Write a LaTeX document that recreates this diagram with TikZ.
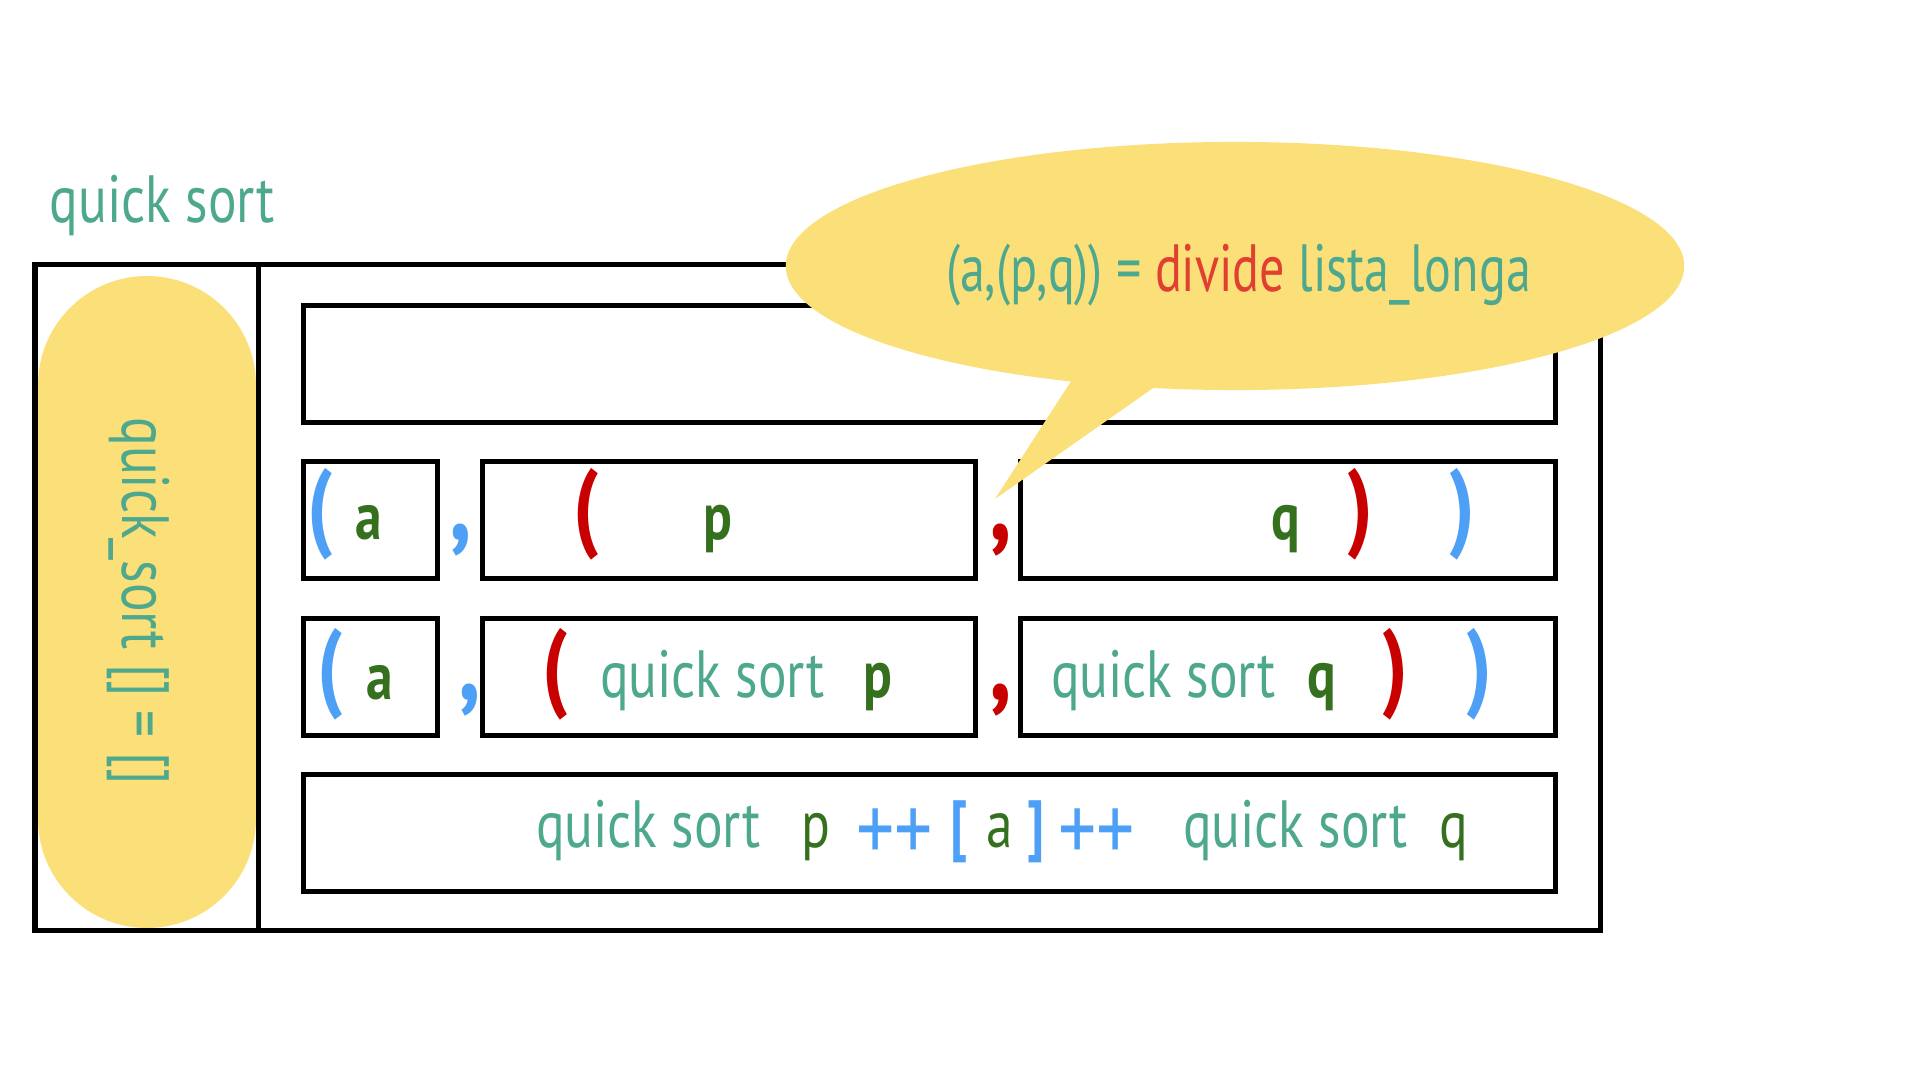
\documentclass[tikz,border=0pt]{standalone}
\usepackage{fontspec}
\setmainfont{PT Sans}[FakeStretch=0.8]
\newfontfamily\hand{PT Sans}[FakeStretch=0.8]
\newfontfamily\handn{PT Sans}[FakeStretch=0.75]
\usetikzlibrary{shapes.geometric}
\definecolor{qsTeal}{RGB}{78,168,142}
\definecolor{qsGreen}{RGB}{52,112,30}
\definecolor{qsBlue}{RGB}{77,160,245}
\definecolor{qsRed}{RGB}{200,0,0}
\definecolor{qsDivide}{RGB}{224,64,48}
\definecolor{qsYellow}{RGB}{251,224,122}
\tikzset{
  frame/.style={draw=black, line width=0.05cm, inner sep=0pt, outer sep=0pt, anchor=north west, minimum height=1.17cm},
  txt/.style={inner sep=0pt, outer sep=0pt, anchor=base west, font=\hand\fontsize{19}{22}\selectfont},
  btxt/.style={txt, font=\hand\bfseries\fontsize{19}{22}\selectfont},
  plus/.style={inner sep=0pt, outer sep=0pt, anchor=base west, font=\hand\fontsize{27}{30}\selectfont},
  bigp/.style={inner sep=0pt, outer sep=0pt, anchor=center, font=\hand\bfseries\fontsize{28}{32}\selectfont},
  bigc/.style={inner sep=0pt, outer sep=0pt, anchor=center, font=\hand\bfseries\fontsize{32}{36}\selectfont},
}
\begin{document}
\begin{tikzpicture}[x=0.01cm,y=-0.01cm]
\useasboundingbox (0,0) rectangle (1920,1080);
% title
\node[txt, text=qsTeal] (title) at (50,223) {quick sort};
% pill
\fill[qsYellow, rounded corners=1.09cm] (38,276) rectangle (256,928);
\node[txt, anchor=center, rotate=-90, text=qsTeal] (base) at (138,601) {quick\_sort [] = []};
% outer frame
\node[frame, minimum width=15.65cm, minimum height=6.655cm] (outer) at (35,265) {};
\coordinate (dtop) at (258.5,265);
\coordinate (dbot) at (258.5,930.5);
\draw[line width=0.05cm] (dtop) -- (dbot);
% rows
\node[frame, minimum width=12.515cm] (r1) at (303.5,305.5) {};
\node[frame, minimum width=1.34cm] (r2a) at (303.5,461.5) {};
\node[frame, minimum width=4.93cm] (r2p) at (482.5,461.5) {};
\node[frame, minimum width=5.345cm] (r2q) at (1020.5,461.5) {};
\node[frame, minimum width=1.34cm] (r3a) at (303.5,618.5) {};
\node[frame, minimum width=4.93cm] (r3p) at (482.5,618.5) {};
\node[frame, minimum width=5.345cm] (r3q) at (1020.5,618.5) {};
\node[frame, minimum width=12.515cm] (r4) at (303.5,774.5) {};
% callout
\node[ellipse, fill=qsYellow, inner sep=0pt, outer sep=0pt, minimum width=8.98cm, minimum height=2.48cm] (bubble) at (1235,266) {};
\coordinate (pl) at (1077,372);
\coordinate (pr) at (1166,379);
\coordinate (tip) at (995,499);
\fill[qsYellow] (pl) -- (tip) -- (pr) -- cycle;
\node[txt, font=\handn\fontsize{19}{22}\selectfont, text=qsTeal] (btext) at (946,292) {(a,(p,q)) = \textcolor{qsDivide}{divide} lista\_longa};
% row 2
\node[bigp, text=qsBlue] (r2o1) at (320,514) {(};
\node[btxt, text=qsGreen] (r2ta) at (355,540) {a};
\node[bigc, text=qsBlue] (r2c1) at (461,540) {,};
\node[bigp, text=qsRed] (r2o2) at (586,514) {(};
\node[btxt, text=qsGreen] (r2tp) at (703,540) {p};
\node[bigc, text=qsRed] (r2c2) at (1001,540) {,};
\node[btxt, text=qsGreen] (r2tq) at (1271,540) {q};
\node[bigp, text=qsRed] (r2x2) at (1360,514) {)};
\node[bigp, text=qsBlue] (r2x1) at (1462,514) {)};
% row 3
\node[bigp, text=qsBlue] (r3o1) at (330,674) {(};
\node[btxt, text=qsGreen] (r3ta) at (366,700) {a};
\node[bigc, text=qsBlue] (r3c1) at (470,700) {,};
\node[bigp, text=qsRed] (r3o2) at (555,674) {(};
\node[txt, text=qsTeal] (r3qs1) at (600,698) {quick sort};
\node[btxt, text=qsGreen] (r3tp) at (863,698) {p};
\node[bigc, text=qsRed] (r3c2) at (1001,700) {,};
\node[txt, text=qsTeal] (r3qs2) at (1051,698) {quick sort};
\node[btxt, text=qsGreen] (r3tq) at (1307,698) {q};
\node[bigp, text=qsRed] (r3x2) at (1395,674) {)};
\node[bigp, text=qsBlue] (r3x1) at (1479,674) {)};
% row 4
\node[txt, text=qsTeal] (r4qs1) at (536,848) {quick sort};
\node[txt, text=qsGreen] (r4tp) at (801,848) {p};
\node[plus, text=qsBlue] (r4pp1) at (856,862) {++};
\node[btxt, text=qsBlue] (r4lb) at (950,848) {[};
\node[txt, text=qsGreen] (r4ta) at (986,848) {a};
\node[btxt, text=qsBlue] (r4rb) at (1027,848) {]};
\node[plus, text=qsBlue] (r4pp2) at (1058,862) {++};
\node[txt, text=qsTeal] (r4qs2) at (1183,848) {quick sort};
\node[txt, text=qsGreen] (r4tq) at (1439,848) {q};
\end{tikzpicture}
\end{document}
